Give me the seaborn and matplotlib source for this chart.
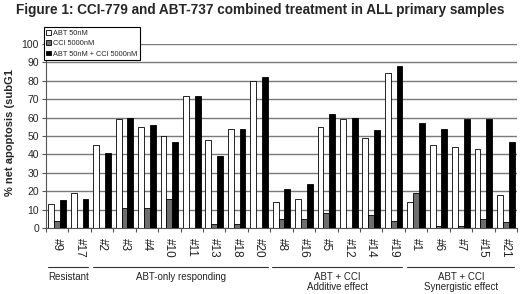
import pandas as pd
import numpy as np
import matplotlib
matplotlib.use('Agg')
import matplotlib.pyplot as plt
import matplotlib.transforms as mtransforms
from matplotlib.lines import Line2D
import seaborn as sns

# values
samples = ['#9', '#17', '#2', '#3', '#4', '#10', '#11', '#13', '#18', '#20',
           '#8', '#16', '#5', '#12', '#14', '#19', '#1', '#6', '#7', '#15', '#21']
abt = [13, 19, 45, 59, 55, 50, 72, 48, 54, 80, 14, 16, 55, 59, 49, 84, 14, 45, 44, 43, 18]
cci = [4, 0, 0, 11, 11, 16, 0, 2, 2, 0, 5, 5, 8, 0, 7, 4, 19, 1, 1, 5, 3]
combo = [15, 16, 41, 60, 56, 47, 72, 39, 54, 82, 21, 24, 62, 60, 53, 88, 57, 54, 59, 59, 47]
series = ['ABT 50nM', 'CCI 5000nM', 'ABT 50nM + CCI 5000nM']

group_names = ['Resistant', 'ABT-only responding', 'ABT + CCI\nAdditive effect',
               'ABT + CCI\nSynergistic effect']
group_first = [0, 2, 10, 16]
group_last = [1, 9, 15, 20]

df = pd.DataFrame({
    'sample': samples * 3,
    'value': abt + cci + combo,
    'series': [series[0]] * len(samples) + [series[1]] * len(samples) + [series[2]] * len(samples),
})

sns.set_style('white')
plt.rcParams['font.family'] = ['Liberation Sans', 'DejaVu Sans']

fig = plt.figure(figsize=(5.2, 2.94), dpi=100)
ax = fig.add_axes([46 / 520, 1 - 228 / 294, 471 / 520, 184 / 294])

sns.barplot(data=df, x='sample', y='value', hue='series', order=samples,
            hue_order=series, palette=['white', '#6e6e6e', 'black'],
            edgecolor='black', linewidth=0.6, width=0.78, ax=ax, legend=True)

ax.set_ylim(0, 100)
ax.set_xlim(-0.5, len(samples) - 0.5)
ax.set_yticks(range(0, 101, 10))
ax.yaxis.grid(True, color='#7a7a7a', linewidth=1.0)
ax.set_axisbelow(True)
for s in ['top', 'right']:
    ax.spines[s].set_visible(False)
ax.spines['left'].set_color('#555555')
ax.spines['bottom'].set_color('#555555')

ax.tick_params(axis='y', direction='out', length=3, width=0.8, color='#555555',
               labelsize=7.5, pad=2, left=True)
ax.set_xticks(range(len(samples)))
ax.set_xticklabels(samples, rotation=-90, fontsize=8.5, color='#222222')
ax.tick_params(axis='x', which='major', length=0, pad=7)
ax.set_xticks(np.arange(-0.5, len(samples), 1), minor=True)
ax.tick_params(axis='x', which='minor', direction='out', length=3, width=0.8,
               color='#555555', bottom=True)
ax.set_xlabel('')
ax.set_ylabel('')

fig.text(10 / 520, 1 - 133 / 294, '% net apoptosis (subG1', rotation=90,
         ha='center', va='center', fontsize=8, fontweight='bold')

fig.suptitle('Figure 1: CCI-779 and ABT-737 combined treatment in ALL primary samples',
             x=0.5, y=1 - 3 / 294, va='top', fontsize=9.8, fontweight='bold')

leg = ax.legend(loc='upper left', bbox_to_anchor=(-0.005, 1.09), fontsize=5.3,
                frameon=True, fancybox=False, edgecolor='black', framealpha=1,
                handlelength=0.6, handleheight=0.6, handletextpad=0.3,
                borderpad=0.35, labelspacing=0.45, borderaxespad=0)
leg.get_frame().set_linewidth(0.8)

trans = mtransforms.blended_transform_factory(ax.transData, fig.transFigure)
for name, a, b in zip(group_names, group_first, group_last):
    fig.add_artist(Line2D([a - 0.42, b + 0.38], [1 - 267 / 294] * 2, transform=trans,
                          color='#333333', linewidth=0.8))
    y = 1 - 272 / 294
    fig.text((a + b) / 2, y, name, transform=trans, ha='center', va='top',
             fontsize=7, linespacing=1.05, color='#222222')

fig.savefig('out.png', dpi=100)
